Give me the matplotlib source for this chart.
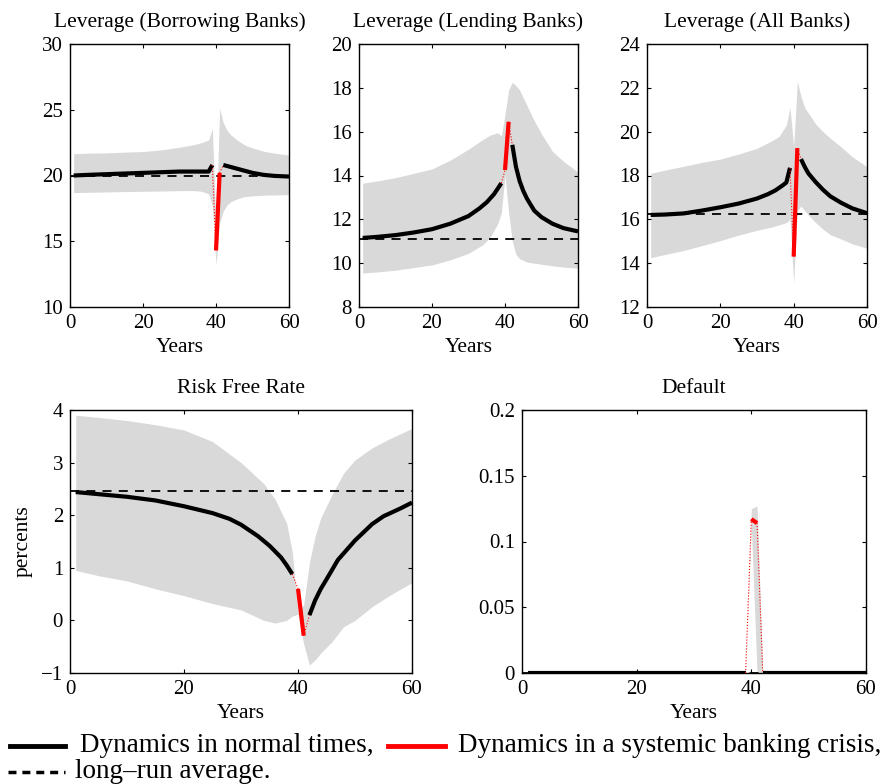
import matplotlib
matplotlib.use('Agg')
import matplotlib.pyplot as plt
from matplotlib.lines import Line2D

plt.rcParams['font.family'] = ['Liberation Serif', 'DejaVu Serif']

# shared year grid for the confidence bands
band_yrs = [1, 5, 10, 15, 20, 25, 30, 34, 36, 38, 39, 40, 41, 42, 43, 44, 46, 48, 50, 53, 56, 60]
crisis_yrs = [40, 41]

# Leverage (Borrowing Banks)
bor_yrs_1 = [1, 5, 10, 15, 20, 25, 30, 35, 38, 39]
bor_val_1 = [20.0, 20.05, 20.1, 20.15, 20.2, 20.25, 20.3, 20.3, 20.3, 20.8]
bor_yrs_2 = [42, 44, 46, 48, 50, 53, 56, 60]
bor_val_2 = [20.8, 20.65, 20.5, 20.35, 20.2, 20.05, 19.97, 19.92]
bor_crisis = [14.3, 20.2]
bor_avg = 20.0
bor_hi = [21.65, 21.7, 21.72, 21.78, 21.82, 21.95, 22.15, 22.35, 22.5, 22.7, 23.6, 16.0,
          25.1, 24.0, 23.45, 23.1, 22.65, 22.3, 22.1, 21.85, 21.7, 21.55]
bor_lo = [18.7, 18.72, 18.75, 18.78, 18.8, 18.82, 18.85, 18.85, 18.8, 18.6, 17.7, 13.2,
          16.4, 17.3, 17.75, 18.0, 18.25, 18.4, 18.45, 18.5, 18.52, 18.55]

# Leverage (Lending Banks)
lend_yrs_1 = [1, 5, 10, 15, 20, 25, 30, 33, 35, 37, 38, 39]
lend_val_1 = [11.15, 11.2, 11.28, 11.4, 11.55, 11.8, 12.15, 12.5, 12.78, 13.15, 13.4, 13.65]
lend_yrs_2 = [42, 43, 44, 45, 46, 48, 50, 53, 56, 60]
lend_val_2 = [15.4, 14.4, 13.75, 13.3, 12.95, 12.4, 12.1, 11.8, 11.6, 11.45]
lend_crisis = [14.25, 16.45]
lend_avg = 11.1
lend_hi = [13.65, 13.75, 13.9, 14.1, 14.3, 14.7, 15.2, 15.65, 15.85, 15.95, 15.8, 16.8,
           17.9, 18.25, 18.1, 17.9, 17.2, 16.5, 15.9, 15.1, 14.65, 14.15]
lend_lo = [9.55, 9.6, 9.68, 9.8, 9.92, 10.15, 10.45, 10.85, 11.2, 11.8, 12.3, 14.0,
           12.3, 11.0, 10.4, 10.2, 10.05, 10.0, 9.95, 9.88, 9.82, 9.77]

# Leverage (All Banks)
all_yrs_1 = [1, 5, 10, 15, 20, 25, 30, 33, 35, 37, 38, 39]
all_val_1 = [16.2, 16.22, 16.27, 16.4, 16.55, 16.72, 16.95, 17.15, 17.32, 17.55, 17.68, 18.35]
all_yrs_2 = [42, 43, 44, 46, 48, 50, 53, 56, 60]
all_val_2 = [18.75, 18.4, 18.1, 17.7, 17.35, 17.05, 16.75, 16.5, 16.28]
all_crisis = [14.3, 19.25]
all_avg = 16.24
all_hi = [18.1, 18.25, 18.42, 18.6, 18.75, 18.98, 19.24, 19.58, 19.78, 20.3, 21.1, 19.3,
          22.3, 21.6, 21.1, 20.85, 20.35, 20.0, 19.7, 19.3, 18.85, 18.4]
all_lo = [14.25, 14.4, 14.58, 14.8, 15.03, 15.28, 15.5, 15.65, 15.75, 15.85, 16.0, 13.1,
          16.4, 16.6, 16.4, 16.2, 15.85, 15.55, 15.3, 15.1, 14.88, 14.68]

# Risk Free Rate
rf_yrs_1 = [1, 5, 10, 15, 20, 25, 28, 30, 33, 35, 37, 38, 39]
rf_val_1 = [2.44, 2.4, 2.35, 2.28, 2.17, 2.04, 1.93, 1.82, 1.6, 1.42, 1.2, 1.05, 0.88]
rf_yrs_2 = [42, 43, 44, 45, 47, 50, 53, 55, 58, 60]
rf_val_2 = [0.1, 0.38, 0.6, 0.78, 1.15, 1.52, 1.83, 1.98, 2.13, 2.24]
rf_crisis = [0.6, -0.29]
rf_avg = 2.46
rf_hi = [3.9, 3.86, 3.8, 3.72, 3.62, 3.4, 3.0, 2.6, 2.3, 1.85, 1.3, 0.15,
         0.3, 1.1, 1.6, 1.95, 2.4, 2.8, 3.05, 3.28, 3.45, 3.65]
rf_lo = [0.95, 0.85, 0.75, 0.6, 0.47, 0.32, 0.2, 0.0, -0.05, 0.0, 0.08, 0.12,
         -0.45, -0.85, -0.75, -0.62, -0.4, -0.12, 0.0, 0.26, 0.47, 0.72]

# Default
def_yrs_1 = [1, 10, 20, 30, 39]
def_val_1 = [0, 0, 0, 0, 0]
def_yrs_2 = [42, 50, 60]
def_val_2 = [0, 0, 0]
def_crisis = [0.117, 0.114]
def_avg = 0.0
def_hi = [0, 0, 0, 0, 0, 0, 0, 0, 0, 0, 0, 0.125, 0.127, 0, 0, 0, 0, 0, 0, 0, 0, 0]
def_lo = [0, 0, 0, 0, 0, 0, 0, 0, 0, 0, 0, 0.112, 0, 0, 0, 0, 0, 0, 0, 0, 0, 0]

W, H = 885, 784


def add_axes_px(fig, left, top, width, height):
    return fig.add_axes([left / W, (H - top - height) / H, width / W, height / H])


def draw_panel(ax, title, yrs1, val1, yrs2, val2, crisis, avg, hi, lo, ylim, yticks):
    ax.fill_between(band_yrs, lo, hi, color='#d9d9d9', linewidth=0, zorder=1)
    ax.plot([0, 60], [avg, avg], color='black', lw=1.3, ls=(0, (5, 4)), zorder=2)
    ax.plot(yrs1, val1, color='black', lw=3, solid_capstyle='butt', zorder=3)
    ax.plot(yrs2, val2, color='black', lw=3, solid_capstyle='butt', zorder=3)
    # dotted connectors into and out of the crisis
    ax.plot([yrs1[-1], crisis_yrs[0]], [val1[-1], crisis[0]], color='red', lw=0.8, ls=':', zorder=3)
    ax.plot([crisis_yrs[1], yrs2[0]], [crisis[1], val2[0]], color='red', lw=0.8, ls=':', zorder=3)
    ax.plot(crisis_yrs, crisis, color='red', lw=3, solid_capstyle='butt', zorder=4)

    ax.set_xlim(0, 60)
    ax.set_ylim(*ylim)
    ax.set_xticks([0, 20, 40, 60])
    ax.set_yticks(yticks)
    ax.tick_params(direction='in', length=3, width=0.8, top=True, right=True,
                   labelsize=15, pad=5)
    for s in ax.spines.values():
        s.set_linewidth(1.0)
    ax.set_title(title, fontsize=15.5, pad=12)
    ax.set_xlabel('Years', fontsize=15.5, labelpad=4)


fig = plt.figure(figsize=(W / 100, H / 100), dpi=100)

ax1 = add_axes_px(fig, 70, 44, 219, 263)
draw_panel(ax1, 'Leverage (Borrowing Banks)', bor_yrs_1, bor_val_1, bor_yrs_2, bor_val_2,
           bor_crisis, bor_avg, bor_hi, bor_lo, (10, 30), [10, 15, 20, 25, 30])

ax2 = add_axes_px(fig, 359, 44, 219, 263)
draw_panel(ax2, 'Leverage (Lending Banks)', lend_yrs_1, lend_val_1, lend_yrs_2, lend_val_2,
           lend_crisis, lend_avg, lend_hi, lend_lo, (8, 20), [8, 10, 12, 14, 16, 18, 20])

ax3 = add_axes_px(fig, 647, 44, 220, 263)
draw_panel(ax3, 'Leverage (All Banks)', all_yrs_1, all_val_1, all_yrs_2, all_val_2,
           all_crisis, all_avg, all_hi, all_lo, (12, 24), [12, 14, 16, 18, 20, 22, 24])

ax4 = add_axes_px(fig, 70, 410, 342, 263)
draw_panel(ax4, 'Risk Free Rate', rf_yrs_1, rf_val_1, rf_yrs_2, rf_val_2,
           rf_crisis, rf_avg, rf_hi, rf_lo, (-1, 4), [-1, 0, 1, 2, 3, 4])
ax4.set_ylabel('percents', fontsize=15.5, labelpad=6)

ax5 = add_axes_px(fig, 522, 410, 344, 263)
draw_panel(ax5, 'Default', def_yrs_1, def_val_1, def_yrs_2, def_val_2,
           def_crisis, def_avg, def_hi, def_lo, (0, 0.2), [0, 0.05, 0.1, 0.15, 0.2])
ax5.set_yticklabels(['0', '0.05', '0.1', '0.15', '0.2'])

# caption-style legend under the panels
y1 = (H - 746) / H
y2 = (H - 772) / H
fig.add_artist(Line2D([10 / W, 65 / W], [y1, y1], color='black', lw=3.5))
fig.text(80 / W, y1, 'Dynamics in normal times,', fontsize=19.5, va='center')
fig.add_artist(Line2D([388 / W, 445 / W], [y1, y1], color='red', lw=3.5))
fig.text(458 / W, y1, 'Dynamics in a systemic banking crisis,', fontsize=19.5, va='center')
fig.add_artist(Line2D([8 / W, 65 / W], [y2, y2], color='black', lw=2.5, ls=(0, (2.3, 1.7))))
fig.text(75 / W, y2, 'long\u2013run average.', fontsize=19.5, va='center')

fig.savefig('out.png', dpi=100)
